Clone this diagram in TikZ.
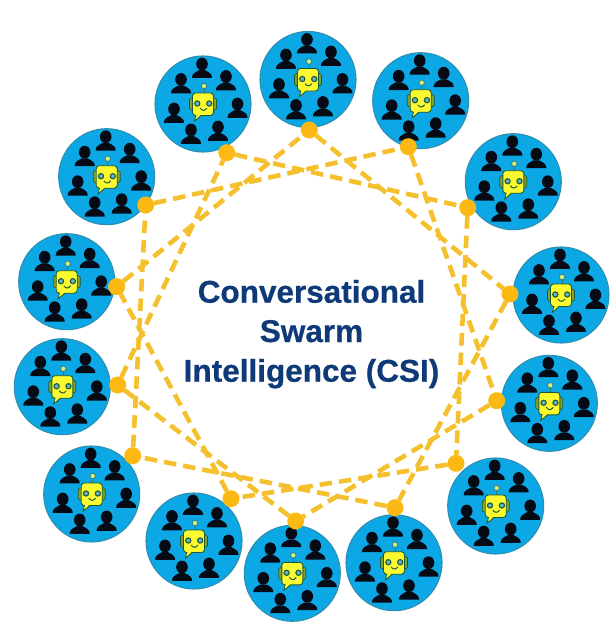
\documentclass[tikz,border=0pt]{standalone}
\usepackage{fontspec}
\setmainfont[BoldFeatures={FakeBold=0.6}]{Liberation Sans}
\definecolor{swarmblue}{HTML}{0CA8E6}
\definecolor{swarmedge}{HTML}{2C8FB0}
\definecolor{linkgold}{HTML}{F5C02E}
\definecolor{dotgold}{HTML}{FDB913}
\definecolor{navytext}{HTML}{0F3A78}
\definecolor{botyellow}{HTML}{FBF92F}
\definecolor{botgreen}{HTML}{1E5A34}
\definecolor{personblack}{HTML}{060A14}
\definecolor{antennatip}{HTML}{D4EE7A}
\tikzset{
  swarm/.style={circle,fill=swarmblue,draw=swarmedge,line width=1.1pt,minimum size=96pt,inner sep=0pt,outer sep=0pt},
  jdot/.style={circle,fill=dotgold,minimum size=17pt,inner sep=0pt,outer sep=0pt},
  link/.style={draw=linkgold,line width=4.6pt,dash pattern=on 12.5pt off 7pt},
  title/.style={text=navytext,font=\fontsize{31.5}{32}\selectfont\bfseries,anchor=base,inner sep=0pt},
  person/.pic={
    \fill[personblack] (0,0) ellipse [x radius=5.8pt,y radius=6.4pt];
    \fill[personblack] (-10,13.8) .. controls (-10.2,10) and (-7.5,8.6) .. (-3,6.2)
      -- (3,6.2) .. controls (7.5,8.6) and (10.2,10) .. (10,13.8) -- cycle;
  },
  bot/.pic={
    \draw[draw=botgreen,line width=.7pt,fill=botgreen!55!botyellow,rounded corners=1.5pt] (-13.5,-6) rectangle (13.5,6);
    \draw[draw=swarmedge!60!botgreen,line width=1pt] (1,-10) -- (1,-16);
    \draw[draw=swarmedge!70!botgreen,line width=.8pt,fill=antennatip] (1,-18) circle [radius=2.8pt];
    \draw[draw=botgreen,line width=.9pt,fill=botyellow] (-7,11) -- (-8.5,17) -- (-1,11) -- cycle;
    \draw[draw=botgreen,line width=.9pt,fill=botyellow,rounded corners=3pt] (-10.5,-11) rectangle (10.5,11.5);
    \fill[botyellow] (-6.3,10.4) -- (-7.6,15.2) -- (-1.7,10.4) -- cycle;
    \draw[draw=botgreen,line width=1.1pt,fill=swarmedge!70!white] (-5.7,-.5) circle [radius=2.6pt];
    \draw[draw=botgreen,line width=1.1pt,fill=swarmedge!70!white] (6.2,-.5) circle [radius=2.6pt];
    \draw[draw=botgreen,line width=1pt,line cap=round] (-2.8,4.2) .. controls (-1,7) and (2,7) .. (3.8,4.2);
  },
  swarmgroup/.pic={
    \foreach \hx/\hy in {-1/-40,-22/-24.5,23/-27.5,-29/5,34.5/0,-12/26,15/23}{
      \pic at (\hx,\hy) {person};
    }
    \pic {bot};
  }
}
\begin{document}
\begin{tikzpicture}[x=1pt,y=-1pt]
\useasboundingbox (0,0) rectangle (614,634);
% swarm circles
\foreach \n/\cx/\cy in {1/308/79.5,2/420.7/100.7,3/513.3/181.7,4/561/295,5/549.3/403.3,6/495.7/506,7/394/562.7,8/292.3/573.3,9/194/541,10/91.7/494,11/62.3/386.7,12/66.7/281.7,13/106.7/176.7,14/203/104}{
  \node[swarm] (c\n) at (\cx,\cy) {};
  \pic at (c\n) {swarmgroup};
}
% junctions
\node[jdot] (j1) at (309.3,130) {};
\node[jdot] (j2) at (408.3,146.7) {};
\node[jdot] (j3) at (467.7,207.7) {};
\node[jdot] (j4) at (510,294) {};
\node[jdot] (j5) at (496.7,400.7) {};
\node[jdot] (j6) at (456,463.3) {};
\node[jdot] (j7) at (395,507.7) {};
\node[jdot] (j8) at (295.7,521) {};
\node[jdot] (j9) at (231,498.7) {};
\node[jdot] (j10) at (132.7,455.7) {};
\node[jdot] (j11) at (117.7,385) {};
\node[jdot] (j12) at (116.7,286.7) {};
\node[jdot] (j13) at (145.7,205) {};
\node[jdot] (j14) at (226.7,152.7) {};
% links
\draw[link] (j1) -- (j4);
\draw[link] (j2) -- (j5);
\draw[link] (j3) -- (j6);
\draw[link] (j4) -- (j7);
\draw[link] (j5) -- (j8);
\draw[link] (j6) -- (j9);
\draw[link] (j7) -- (j10);
\draw[link] (j8) -- (j11);
\draw[link] (j9) -- (j12);
\draw[link] (j10) -- (j13);
\draw[link] (j11) -- (j14);
\draw[link] (j12) -- (j1);
\draw[link] (j13) -- (j2);
\draw[link] (j14) -- (j3);
% title
\node[title] (t1) at (311.5,302.7) {Conversational};
\node[title] (t2) at (311.5,342) {Swarm};
\node[title] (t3) at (311.5,381.7) {Intelligence (CSI)};
\end{tikzpicture}
\end{document}
